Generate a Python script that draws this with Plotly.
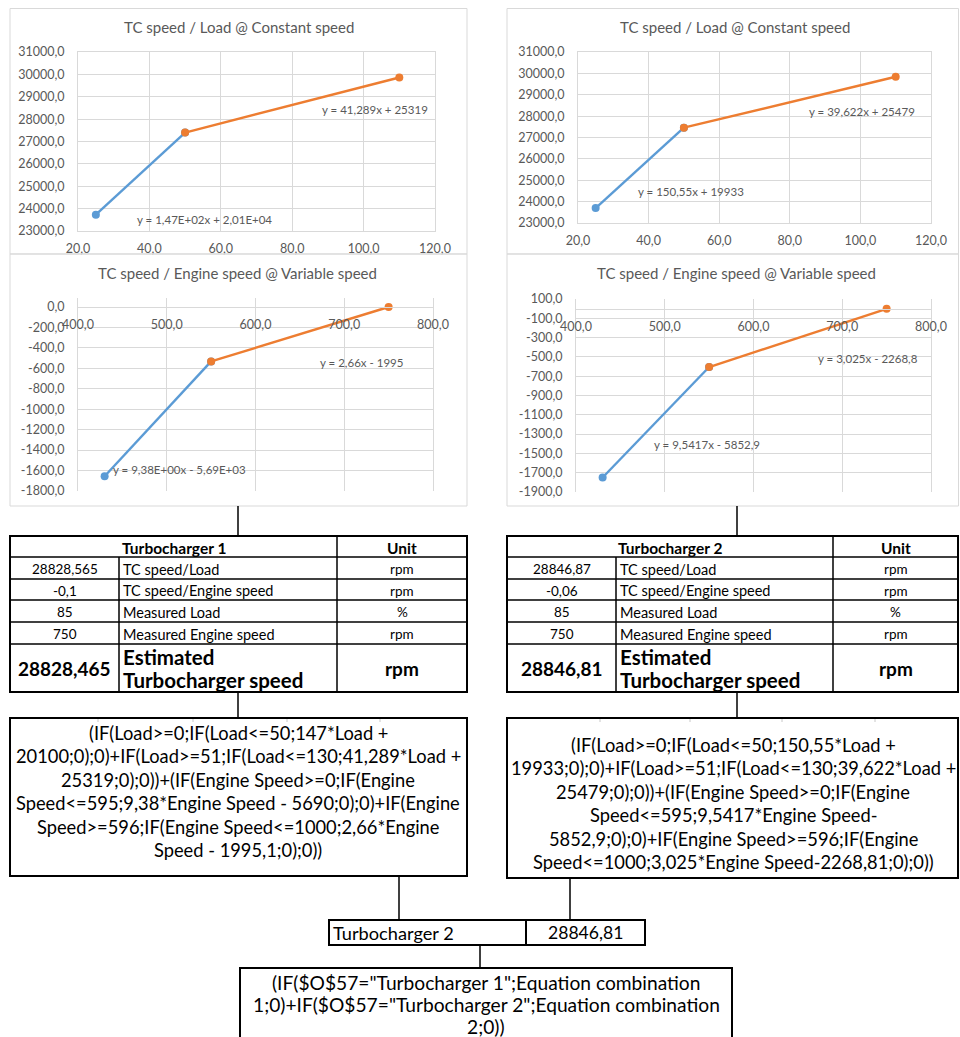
import plotly.graph_objects as go

W, H = 960, 1037
FONT = "Lato"
GRAY = "#595959"
GRID = "#d9d9d9"
BLUE = "#5B9BD5"
ORANGE = "#ED7D31"

# ---------------- data ----------------
# Chart 1 : Turbocharger 1, TC speed vs Load
tc1_load_low = [25, 50]
tc1_speed_low = [23730, 27400]
tc1_load_high = [50, 110]
tc1_speed_high = [27400, 29860]
# Chart 2 : Turbocharger 2, TC speed vs Load
tc2_load_low = [25, 50]
tc2_speed_low = [23700, 27460]
tc2_load_high = [50, 110]
tc2_speed_high = [27460, 29840]
# Chart 3 : Turbocharger 1, TC speed vs engine speed
tc1_eng_low = [430, 550]
tc1_delta_low = [-1656, -532]
tc1_eng_high = [550, 750]
tc1_delta_high = [-532, 0]
# Chart 4 : Turbocharger 2, TC speed vs engine speed
tc2_eng_low = [430, 550]
tc2_delta_low = [-1750, -605]
tc2_eng_high = [550, 750]
tc2_delta_high = [-605, -2]

load_ticks = [20, 40, 60, 80, 100, 120]
speed_ticks = [23000, 24000, 25000, 26000, 27000, 28000, 29000, 30000, 31000]
eng_ticks = [400, 500, 600, 700, 800]
delta_ticks_1 = [-1800, -1600, -1400, -1200, -1000, -800, -600, -400, -200, 0]
delta_ticks_2 = [-1900, -1700, -1500, -1300, -1100, -900, -700, -500, -300, -100, 100]

chart_titles = ["TC speed / Load @ Constant speed", "TC speed / Load @ Constant speed",
                "TC speed / Engine speed @ Variable speed", "TC speed / Engine speed @ Variable speed"]
trend_labels = ["y = 1,47E+02x + 2,01E+04", "y = 41,289x + 25319",
                "y = 150,55x + 19933", "y = 39,622x + 25479",
                "y = 9,38E+00x - 5,69E+03", "y = 2,66x - 1995",
                "y = 9,5417x - 5852,9", "y = 3,025x - 2268,8"]

table_titles = ["Turbocharger 1", "Turbocharger 2"]
tc1_values = ["28828,565", "-0,1", "85", "750"]
tc2_values = ["28846,87", "-0,06", "85", "750"]
row_labels = ["TC speed/Load", "TC speed/Engine speed", "Measured Load", "Measured Engine speed"]
row_units = ["rpm", "rpm", "%", "rpm"]
tc1_estimate = "28828,465"
tc2_estimate = "28846,81"

formula_1 = ["(IF(Load>=0;IF(Load<=50;147*Load +",
             "20100;0);0)+IF(Load>=51;IF(Load<=130;41,289*Load +",
             "25319;0);0))+(IF(Engine Speed>=0;IF(Engine",
             "Speed<=595;9,38*Engine Speed - 5690;0);0)+IF(Engine",
             "Speed>=596;IF(Engine Speed<=1000;2,66*Engine",
             "Speed - 1995,1;0);0))"]
formula_2 = ["(IF(Load>=0;IF(Load<=50;150,55*Load +",
             "19933;0);0)+IF(Load>=51;IF(Load<=130;39,622*Load +",
             "25479;0);0))+(IF(Engine Speed>=0;IF(Engine",
             "Speed<=595;9,5417*Engine Speed-",
             "5852,9;0);0)+IF(Engine Speed>=596;IF(Engine",
             "Speed<=1000;3,025*Engine Speed-2268,81;0);0))"]
selector_name = "Turbocharger 2"
selector_value = "28846,81"
formula_final = ['(IF($O$57="Turbocharger 1";Equation combination',
                 '1;0)+IF($O$57="Turbocharger 2";Equation combination',
                 '2;0))']


# ---------------- helpers ----------------
def px(x):
    return x / W


def py(y):
    return 1 - y / H


def fmt(v):
    return f"{v:.1f}".replace(".", ",")


def esc(s):
    return s.replace("&", "&amp;").replace("<", "&lt;").replace(">", "&gt;")


fig = go.Figure()

series = [
    ("x", "y", tc1_load_low, tc1_speed_low, BLUE), ("x", "y", tc1_load_high, tc1_speed_high, ORANGE),
    ("x2", "y2", tc2_load_low, tc2_speed_low, BLUE), ("x2", "y2", tc2_load_high, tc2_speed_high, ORANGE),
    ("x3", "y3", tc1_eng_low, tc1_delta_low, BLUE), ("x3", "y3", tc1_eng_high, tc1_delta_high, ORANGE),
    ("x4", "y4", tc2_eng_low, tc2_delta_low, BLUE), ("x4", "y4", tc2_eng_high, tc2_delta_high, ORANGE),
]
for xa, ya, xs, ys, col in series:
    fig.add_trace(go.Scatter(x=xs, y=ys, xaxis=xa, yaxis=ya, mode="lines+markers",
                             line=dict(color=col, width=2.4),
                             marker=dict(color=col, size=8), showlegend=False,
                             hoverinfo="skip", cliponaxis=False))

tickfont = dict(family=FONT, size=12.5, color=GRAY)


def xax(dom, rng, ticks, anchor, position=None):
    d = dict(domain=[px(dom[0]), px(dom[1])], range=rng, tickmode="array", tickvals=ticks,
             ticktext=[fmt(t) for t in ticks], showgrid=True, gridcolor=GRID, gridwidth=1,
             zeroline=False, showline=True, linecolor=GRID, linewidth=1, ticks="",
             tickfont=tickfont, fixedrange=True, ticklabelstandoff=6, automargin=False)
    if position is None:
        d.update(anchor=anchor, mirror=True)
    else:
        d.update(anchor="free", position=position)
    return d


def yax(dom, rng, ticks, anchor, mirror=True):
    return dict(domain=[py(dom[1]), py(dom[0])], range=rng, tickmode="array", tickvals=ticks,
                ticktext=[fmt(t) for t in ticks], showgrid=True, gridcolor=GRID, gridwidth=1,
                zeroline=False, showline=True, linecolor=GRID, linewidth=1, mirror=mirror,
                ticks="", tickfont=tickfont, anchor=anchor, fixedrange=True, ticklabelstandoff=10,
                automargin=False)


# chart 3 and 4 : x axis crosses at y = 0
y3_dom = (298, 491)
y3_rng = [-1800, 88]
y4_dom = (299, 492)
y4_rng = [-1900, 100]


def zero_pos(dom, rng):
    lo, hi = py(dom[1]), py(dom[0])
    return lo + (0 - rng[0]) / (rng[1] - rng[0]) * (hi - lo)


fig.update_layout(
    width=W, height=H, margin=dict(l=0, r=0, t=0, b=0, pad=0, autoexpand=False),
    paper_bgcolor="white", plot_bgcolor="white", showlegend=False,
    xaxis=xax((78, 435), [20, 120], load_ticks, "y"),
    yaxis=yax((52, 231), [23000, 31000], speed_ticks, "x"),
    xaxis2=xax((578, 931), [20, 120], load_ticks, "y2"),
    yaxis2=yax((52, 223), [23000, 31000], speed_ticks, "x2"),
    xaxis3=xax((78, 433), [400, 800], eng_ticks, None, zero_pos(y3_dom, y3_rng)),
    yaxis3=yax(y3_dom, y3_rng, delta_ticks_1, "x3"),
    xaxis4=xax((576, 931), [400, 800], eng_ticks, None, zero_pos(y4_dom, y4_rng)),
    yaxis4=yax(y4_dom, y4_rng, delta_ticks_2, "x4"),
)

shapes = []
ann = []


def rect(x0, y0, x1, y1, color="black", width=2):
    shapes.append(dict(type="rect", xref="paper", yref="paper", x0=px(x0), x1=px(x1),
                       y0=py(y1), y1=py(y0), line=dict(color=color, width=width),
                       fillcolor="rgba(0,0,0,0)", layer="above"))


def line(x0, y0, x1, y1, color="black", width=1.5):
    shapes.append(dict(type="line", xref="paper", yref="paper", x0=px(x0), x1=px(x1),
                       y0=py(y0), y1=py(y1), line=dict(color=color, width=width), layer="above"))


def text(x, y, s, size, bold=False, xanchor="center", color="black"):
    s = esc(s)
    if bold:
        s = "<b>" + s + "</b>"
    ann.append(dict(x=px(x), y=py(y), xref="paper", yref="paper", text=s, showarrow=False,
                    xanchor=xanchor, yanchor="middle", align="left" if xanchor == "left" else "center",
                    font=dict(family=FONT, size=size, color=color), borderpad=0))


# chart frames
rect(10, 8.5, 467, 254, GRID, 1)
rect(10, 254, 467, 506, GRID, 1)
rect(507, 8.5, 958.5, 254, GRID, 1)
rect(507, 254, 958.5, 506, GRID, 1)

# chart titles
for (cx, cy), t in zip([(239, 27), (735, 27), (237, 273), (736, 273)], chart_titles):
    text(cx, cy, t, 15, color=GRAY)

# trendline equations
for (cx, cy), t in zip([(204, 220), (375, 110), (691, 191), (862, 112),
                        (179, 469), (361, 363), (707, 444), (868, 358)], trend_labels):
    text(cx, cy, t, 11.5, color=GRAY)

# connectors
line(238, 506, 238, 536)
line(737, 506, 737, 536)
line(238, 692, 238, 718)
line(737, 692, 737, 718)
line(399, 876, 399, 920)
line(570, 878, 570, 920)
line(480, 945, 480, 968)

# tables
rows_y = [536, 557, 579, 600, 622, 644, 692]
for (x0, c1, c2, x1), title, vals, est in [((10, 119, 337, 467), table_titles[0], tc1_values, tc1_estimate),
                                           ((507, 616, 833, 958), table_titles[1], tc2_values, tc2_estimate)]:
    rect(x0, rows_y[0], x1, rows_y[-1], "black", 2)
    for yy in rows_y[1:-1]:
        line(x0, yy, x1, yy, "black", 1.5)
    line(c1, rows_y[1], c1, rows_y[-1], "black", 1.5)
    line(c2, rows_y[0], c2, rows_y[-1], "black", 1.5)
    text((x0 + c2) / 2, (rows_y[0] + rows_y[1]) / 2 + 1, title, 15.5, bold=True)
    text((c2 + x1) / 2, (rows_y[0] + rows_y[1]) / 2 + 1, "Unit", 15.5, bold=True)
    for i in range(4):
        yc = (rows_y[i + 1] + rows_y[i + 2]) / 2 + 1
        text((x0 + c1) / 2, yc, vals[i], 13.5)
        text(c1 + 3, yc, row_labels[i], 14.5, xanchor="left")
        text((c2 + x1) / 2, yc, row_units[i], 13.5)
    yc = (rows_y[5] + rows_y[6]) / 2
    text((x0 + c1) / 2, yc, est, 19, bold=True)
    text(c1 + 3, yc - 11, "Estimated", 20.5, bold=True, xanchor="left")
    text(c1 + 3, yc + 12, "Turbocharger speed", 20.5, bold=True, xanchor="left")
    text((c2 + x1) / 2, yc, "rpm", 19, bold=True)

# formula boxes
rect(10, 718, 467, 876, "black", 2)
rect(507, 718, 958, 878, "black", 2)
for xx in [98, 193, 287, 380, 600, 690, 782, 875]:
    line(xx, 719, xx, 722, "#c8c8c8", 1)
for i, s in enumerate(formula_1):
    text(238, 733 + i * 23.4, s, 18.3)
for i, s in enumerate(formula_2):
    text(733, 745 + i * 23.4, s, 18.3)

# selector
rect(329, 920, 526, 945, "black", 2)
rect(526, 920, 645, 945, "black", 2)
text(332, 932.5, selector_name, 18.2, xanchor="left")
text(585.5, 932.5, selector_value, 17.6)

# final formula box
rect(240, 968, 732, 1045, "black", 2)
for i, s in enumerate(formula_final):
    text(486, 982 + i * 22.2, s, 19.2)

fig.update_layout(shapes=shapes, annotations=ann)
fig.write_html("out.html", config={"displayModeBar": False},
               post_script="document.body.style.margin='0';document.body.style.overflow='hidden';")
